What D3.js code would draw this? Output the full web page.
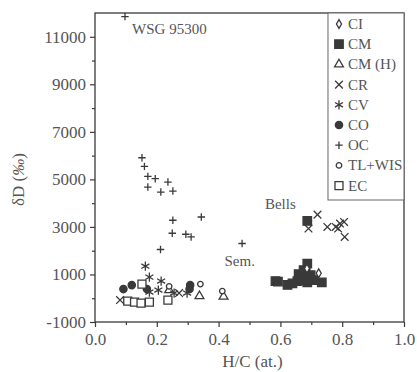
<!DOCTYPE html>
<html>
<head>
<meta charset="utf-8">
<script src="https://cdn.jsdelivr.net/npm/d3@7"></script>
<style>
  body { margin: 0; background: #fff; }
  text { font-family: "Liberation Serif", "DejaVu Serif", serif; }
</style>
</head>
<body>
<svg id="chart"></svg>
<script>
// Data: [H/C, deltaD]
const ciPoints = [[0.686, 1250], [0.724, 1050]];
const cmPoints = [[0.687, 3250], [0.584, 720], [0.592, 700], [0.623, 560], [0.639, 624], [0.655, 720],
  [0.671, 762], [0.687, 1460], [0.682, 1044], [0.698, 972], [0.687, 666], [0.709, 762],
  [0.734, 666], [0.659, 1014], [0.675, 1180]];
const cmhPoints = [[0.240, 343], [0.338, 91], [0.416, 70]];
const crPoints = [[0.081, -77], [0.272, 217], [0.691, 2932], [0.720, 3519], [0.752, 2999],
  [0.779, 2999], [0.793, 3141], [0.806, 3208], [0.787, 2932], [0.808, 2579]];
const cvPoints = [[0.163, 1350], [0.176, 888], [0.214, 720], [0.176, 259], [0.205, 343],
  [0.256, 217], [0.298, 217]];
const coPoints = [[0.092, 385], [0.119, 553], [0.168, 385], [0.308, 553], [0.306, 385]];
const ocPoints = [[0.097, 11850], [0.152, 5911], [0.160, 5546], [0.171, 5126], [0.195, 5030],
  [0.236, 4887], [0.171, 4677], [0.213, 4467], [0.252, 4509], [0.252, 3280], [0.344, 3418],
  [0.250, 2734], [0.294, 2692], [0.311, 2579], [0.212, 2050], [0.476, 2302]];
const tlwisPoints = [[0.341, 594], [0.412, 300], [0.240, 500]];
const ecPoints = [[0.152, 594], [0.106, -119], [0.128, -161], [0.149, -203], [0.176, -161], [0.236, -77]];

const xTicks = [0, 0.2, 0.4, 0.6, 0.8, 1.0];
const yTicks = [-1000, 1000, 3000, 5000, 7000, 9000, 11000];
const annotations = [
  { text: "WSG 95300", x: 0.12, y: 11100 },
  { text: "Bells", x: 0.55, y: 3750 },
  { text: "Sem.", x: 0.419, y: 1350 }
];

const W = 417, H = 372;
const margin = { top: 13, right: 13, bottom: 50, left: 95 };
const width = W - margin.left - margin.right;
const height = H - margin.top - margin.bottom;
const ink = "#3a3a3a";

const svg = d3.select("#chart").attr("width", W).attr("height", H);
const g = svg.append("g").attr("transform", `translate(${margin.left},${margin.top})`);

const x = d3.scaleLinear().domain([0, 1]).range([0, width]);
const y = d3.scaleLinear().domain([-1000, 12000]).range([height, 0]);

// frame
g.append("rect")
  .attr("width", width).attr("height", height)
  .attr("fill", "none").attr("stroke", ink).attr("stroke-width", 1.3);

// minor ticks
g.append("g")
  .attr("transform", `translate(0,${height})`)
  .call(d3.axisBottom(x).tickValues(d3.range(0.1, 1, 0.2)).tickSize(3).tickFormat(""))
  .call(a => a.select(".domain").remove());
g.append("g")
  .call(d3.axisLeft(y).tickValues(d3.range(0, 12000, 2000)).tickSize(3).tickFormat(""))
  .call(a => a.select(".domain").remove());

// major ticks + labels
const xAxis = g.append("g")
  .attr("transform", `translate(0,${height})`)
  .call(d3.axisBottom(x).tickValues(xTicks).tickSize(5).tickPadding(6).tickFormat(d3.format(".1f")));
const yAxis = g.append("g")
  .call(d3.axisLeft(y).tickValues(yTicks).tickSize(5).tickPadding(4).tickFormat(d => d < 0 ? "-" + Math.abs(d) : d));

[xAxis, yAxis].forEach(a => {
  a.select(".domain").remove();
  a.selectAll("text").attr("fill", "#555").style("font-size", "17px")
    .style("font-family", "'Liberation Serif', serif");
});
g.selectAll(".tick line").attr("stroke", ink).attr("stroke-width", 1.2);

// axis titles
svg.append("text")
  .attr("x", margin.left + width / 2 + 3).attr("y", 367)
  .attr("text-anchor", "middle").attr("fill", "#555")
  .style("font-size", "17px").text("H/C (at.)");
svg.append("text")
  .attr("transform", `translate(24,${margin.top + height / 2 + 12}) rotate(-90)`)
  .attr("text-anchor", "middle").attr("fill", "#555")
  .style("font-size", "17px")
  .html('δD (<tspan font-style="italic">‰</tspan>)');

// series definitions
const series = [
  { name: "CI", data: ciPoints, type: d3.symbolDiamond, size: 22, fill: "#fff" },
  { name: "CM", data: cmPoints, type: d3.symbolSquare, size: 72, fill: ink },
  { name: "CM (H)", data: cmhPoints, type: d3.symbolTriangle, size: 34, fill: "none" },
  { name: "CR", data: crPoints, type: d3.symbolTimes, size: 40, fill: "none" },
  { name: "CV", data: cvPoints, type: d3.symbolAsterisk, size: 60, fill: "none" },
  { name: "CO", data: coPoints, type: d3.symbolCircle, size: 42, fill: ink },
  { name: "OC", data: ocPoints, type: d3.symbolPlus, size: 20, fill: "none" },
  { name: "TL+WIS", data: tlwisPoints, type: d3.symbolCircle, size: 24, fill: "#fff" },
  { name: "EC", data: ecPoints, type: d3.symbolSquare, size: 64, fill: "#fff" }
];

const drawOrder = ["OC", "CO", "CV", "EC", "CM", "CR", "CM (H)", "TL+WIS", "CI"];
drawOrder.forEach(name => {
  const s = series.find(d => d.name === name);
  g.append("g").selectAll("path")
    .data(s.data)
    .enter().append("path")
    .attr("transform", d => `translate(${x(d[0])},${y(d[1])})`)
    .attr("d", d3.symbol().type(s.type).size(s.size))
    .attr("fill", s.fill)
    .attr("stroke", ink)
    .attr("stroke-width", 1.3);
});

// annotations
g.selectAll(".note")
  .data(annotations)
  .enter().append("text")
  .attr("class", "note")
  .attr("x", d => x(d.x)).attr("y", d => y(d.y))
  .attr("fill", "#555").style("font-size", "15px")
  .text(d => d.text);

// legend
const legend = g.append("g").attr("transform", `translate(${x(0.754)},0)`);
legend.append("rect")
  .attr("width", width - x(0.754)).attr("height", 187)
  .attr("fill", "#fff").attr("stroke", "#666").attr("stroke-width", 1);
const item = legend.selectAll(".item")
  .data(series)
  .enter().append("g")
  .attr("transform", (d, i) => `translate(11,${11 + i * 20.2})`);
item.append("path")
  .attr("d", d => d3.symbol().type(d.type).size(d.size)())
  .attr("fill", d => d.fill)
  .attr("stroke", ink).attr("stroke-width", 1.3);
item.append("text")
  .attr("x", 9).attr("y", 5)
  .attr("fill", "#555").style("font-size", "15px")
  .text(d => d.name);
</script>
</body>
</html>
